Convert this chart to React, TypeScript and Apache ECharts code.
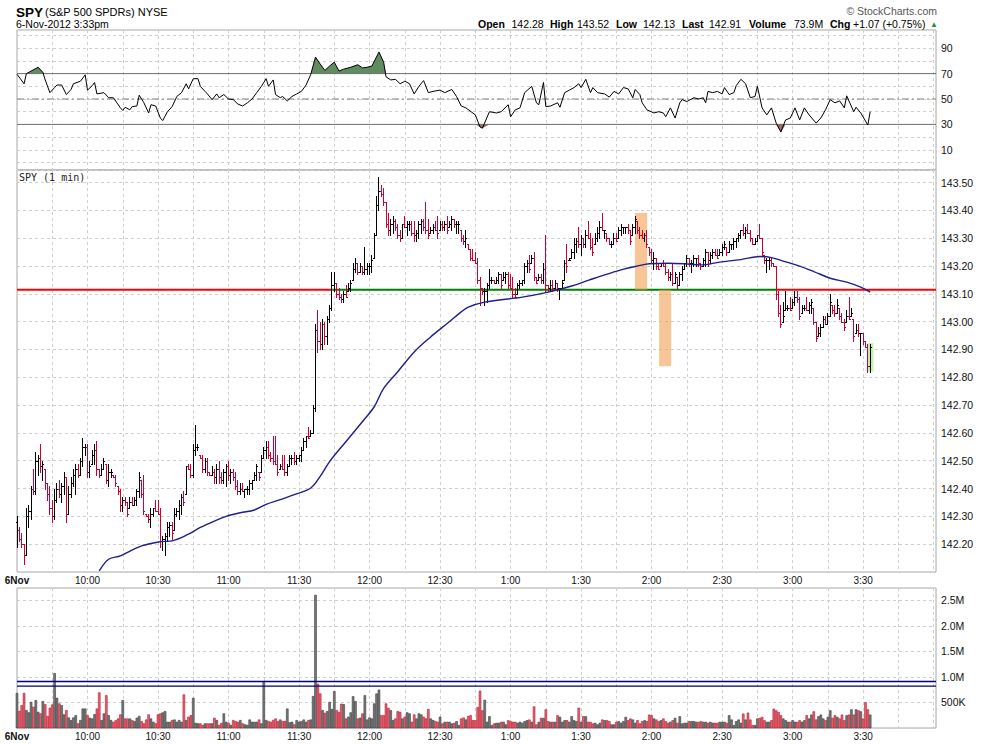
import React, { useEffect, useRef } from "react";
import * as echarts from "echarts";

// ---------------- data ----------------
const PRICE_BASE = 142; // prices below are stored in cents above this base
const PREV_CLOSE = 141.84;
const FIRST_OPEN = 142.28;

const HIGH_C = [
  30,26,24,20,33,34,41,47,53,52, 56,50,47,42,41,36,40,42,43,42, 46,44,41,44,47,49,49,51,58,56,
  56,50,54,56,57,47,49,51,49,49, 47,45,45,41,40,37,37,35,37,37, 37,40,46,43,45,31,31,33,33,36,
  36,33,23,24,28,28,28,33,33,36, 38,39,48,49,49,56,63,56,52,52, 51,51,46,48,47,49,50,46,47,49,
  50,47,47,46,43,42,42,40,41,43, 43,46,49,46,52,55,57,57,53,59, 59,52,49,52,52,49,52,52,53,52,
  52,55,58,59,62,61,70,99,104,100, 101,100,102,106,118,118,114,112,110,111, 113,114,115,121,123,121,121,120,127,121,
  121,124,132,145,152,149,148,143,139,137, 138,137,135,133,135,138,136,136,136,136, 133,136,137,137,143,137,134,135,136,138,
  136,136,136,138,136,138,137,136,136,133, 131,133,128,126,126,125,123,116,112,112, 114,119,116,115,116,118,117,118,118,118,
  117,116,112,114,115,115,121,122,124,124, 125,116,117,117,121,131,113,115,115,115, 114,112,115,122,128,123,126,130,130,134,
  131,130,133,136,132,130,132,134,136,139, 133,132,130,129,132,132,134,135,134,134, 135,133,135,138,136,134,133,132,133,127,
  126,125,123,121,121,122,121,119,118,121, 118,116,118,120,121,124,123,122,124,123, 124,121,123,126,125,125,126,126,126,126,
  128,129,127,129,128,130,130,132,133,135, 134,135,133,130,130,131,135,130,124,123, 123,123,121,120,111,106,107,111,106,109,
  108,111,111,109,106,106,109,107,108,105, 100,98,99,102,102,103,110,106,106,108, 105,103,101,104,109,105,101,99,99,96,
  96,93,92,92
];
const LOW_C = [
  19,21,19,13,16,26,29,38,38,45, 46,43,40,36,31,28,29,35,37,35, 38,28,31,37,41,38,44,45,48,52,
  44,44,49,49,45,44,45,47,42,41, 44,44,41,38,32,32,34,30,33,34, 34,34,37,37,31,30,28,26,30,32,
  31,19,18,16,21,23,22,25,30,29, 31,34,38,47,44,44,52,54,51,46, 46,45,45,45,42,42,42,42,42,41,
  43,42,43,40,38,38,39,37,38,38, 40,43,43,43,46,51,51,51,50,49, 49,45,47,47,45,45,48,49,49,49,
  50,50,54,55,58,59,60,68,89,90, 90,92,92,100,104,111,109,108,107,107, 109,111,111,115,118,117,118,117,117,117,
  117,118,123,131,140,145,142,134,131,131, 132,133,130,129,130,134,131,133,131,129, 129,130,132,133,132,130,132,132,133,130,
  133,133,133,132,134,133,134,132,132,129, 128,127,126,122,122,121,114,106,110,106, 107,112,114,114,114,114,112,115,114,112,
  112,109,109,110,112,113,114,118,118,121, 115,114,115,114,114,111,111,111,111,112, 111,108,112,115,118,122,123,123,125,127,
  124,127,127,130,126,124,128,129,130,133, 130,129,128,127,128,129,130,131,132,132, 132,128,131,132,132,130,130,129,127,124,
  121,119,119,119,120,120,117,115,115,113, 114,112,113,115,119,120,120,118,120,120, 120,119,120,120,120,121,123,124,123,124,
  124,126,124,125,126,126,127,129,130,131, 130,132,129,128,128,129,130,124,121,118, 119,120,120,108,102,98,100,104,104,104,
  105,106,107,101,103,104,104,103,103,99, 93,95,95,98,99,99,102,103,102,103, 101,100,97,100,101,102,93,96,95,88,
  92,91,82,82
];
const CLOSE_C = [
  25,22,20,16,30,32,40,39,50,51, 48,49,42,38,33,30,36,40,38,41, 44,31,38,42,45,47,45,50,55,55,
  46,48,52,54,47,45,47,50,43,46, 46,44,42,39,34,36,35,31,35,34, 36,39,44,38,32,30,29,31,33,32,
  31,21,22,23,26,27,24,31,32,34, 37,35,48,47,45,54,55,55,51,47, 50,46,45,46,44,47,44,43,46,48,
  45,46,44,41,39,40,39,40,40,42, 43,45,48,44,51,54,55,52,51,50, 49,46,48,47,46,48,51,51,50,51,
  52,54,57,59,58,60,69,97,93,92, 99,95,101,105,113,114,110,109,108,110, 109,112,114,119,121,118,120,118,119,120,
  120,122,131,142,147,146,143,135,133,135, 136,134,131,130,135,134,135,135,132,131, 132,135,136,134,133,131,133,134,133,132,
  135,134,135,133,135,137,135,135,135,130, 129,130,126,123,122,121,115,112,111,111, 113,115,115,114,115,117,113,116,117,113,
  112,110,109,113,114,115,120,121,119,123, 116,114,116,115,119,113,112,113,112,114, 112,112,114,121,120,122,125,128,129,128,
  130,128,131,130,127,125,130,132,134,133, 133,130,128,128,130,129,133,134,134,134, 133,129,134,137,133,131,130,131,128,125,
  122,123,120,119,121,120,118,116,117,114, 117,113,117,119,121,123,121,121,123,123, 121,120,122,125,122,124,125,124,123,125,
  127,128,125,128,128,129,130,131,133,132, 133,132,130,128,129,131,130,125,122,122, 122,121,120,110,103,99,102,105,105,104,
  107,109,108,102,105,105,104,106,107,100, 94,96,98,101,99,102,107,104,103,106, 102,100,98,102,101,103,95,97,96,96,
  93,91,84,91
];

// volume in thousands of shares, one value per minute bar
const VOLUME_K = [
  680,330,440,680,345,300,505,410,540,310, 280,520,460,230,390,455,1070,585,475,440,
  260,345,200,150,200,245,85,150,375,375, 245,195,180,265,375,690,150,280,635,245,
  150,115,145,180,260,540,180,180,180,150, 130,195,230,130,85,160,260,180,115,85,
  260,280,300,325,115,115,150,160,115,150, 115,650,150,215,245,585,95,85,85,55,
  85,85,85,85,195,150,55,95,280,115, 95,55,150,130,115,150,85,65,55,160,
  115,115,115,160,85,910,150,130,115,150, 180,130,160,130,130,375,105,115,65,150,
  115,130,160,115,150,160,620,2600,860,670, 345,290,325,505,365,715,345,310,470,460,
  180,215,300,615,520,180,195,280,635,160, 200,180,475,670,745,245,245,475,390,345,
  150,180,325,310,180,215,300,280,115,260, 180,280,260,215,180,365,180,150,130,115,
  215,85,115,115,115,
  83,96,128,51,180,199,160,231,244,147, 147,404,724,340,545,115,224,51,83,96,
  96,115,115,64,147,128,115,115,96,115, 96,
  128,147,160,115,417,64,115,192,192,359, 128,115,115,115,244,212,115,147,147,115,
  224,147,128,391,115,224,224,115,115,83, 96,
  64,96,160,147,147,128,64,64,115,128, 96,128,212,147,180,160,96,147,83,128,
  147,128,256,244,180,160,128,147,180,128, 96,
  115,147,192,96,224,83,96,96,128,128, 128,115,115,128,115,115,96,115,96,96,
  96,115,115,115,96,244,160,51,128,160, 96,
  276,160,295,160,51,51,180,192,212,147, 115,115,147,
  372,340,308,244,180,147,115,115,147,115, 115,147,115,147,244,180,256,320,160,224,
  256,180,147,212,340,192,244,212,180,256, 147,244,256,359,256,359,340,320,180,500,
  359,256
];

// RSI readings: minute after 9:30 and value
const RSI_T = [
  0,3,4,6,9,11,12,14,16,17, 19,21,23,24,27,29,30,32,33,34, 37,39,41,44,45,46,48,49,51,52,
  54,56,57,59,61,62,64,66,68,70, 72,73,75,77,78,80,81,83,85,86, 88,90,92,94,96,98,100,102,104,106,
  107,109,110,112,113,115,117,119,121,123, 125,127,129,131,133,135,137,139,142,145,
  147,149,151,154,156,157,159,161,163,165, 167,169,171,173,175,177,180,182,185,187,
  189,191,195,197,198,201,204,206,209,210, 212,214,216,219,221,222,224,225,227,230,
  231,233,235,237,239,240,242,244,245,247, 250,252,254,256,258,260,262,263,265,266,
  268,271,273,275,276,278,280,282,283,285, 288,290,292,293,294,296,298,300,301,303,
  305,306,308,310,312,314,315,317,319,321, 323,325,327,329,331,333,335,337,340,342,
  344,346,348,350,352,353,356,357,359,362, 363
];
const RSI_V = [
  69.5,62,70,72,75,71,65,55,59,61, 61,53.5,57.5,62,64,69,57,60.5,63,54, 55,51,51,43,41,43.5,41.5,44,44.5,53,
  47,39,45.5,44.5,35,33,40,44,52,55, 62,58,66,66,60,56,54,49.5,54,51, 53.5,50,49.5,46,44.5,47,50,55,60,66,
  60,65,53.5,51,52,48.5,52,54,56,61, 69.5,83,77.5,72.5,76,79,72,73.5,75,77,
  74.5,75,76,87,79,67.5,65,65.5,62,64, 62,54,60,64.5,55,56,57,55,57.5,52,
  44.5,43,37.5,28,27,40,39,40,45.5,36, 41.5,43,55,60,47,45.5,63,44,44.5,47,
  43.5,55,57,59,62,59,65.5,55,59,55, 54,51.5,56,54,59,58,51,57.5,53.5,47,
  41.5,39,40,39,36,43,35,47,49.5,48, 51,50,51,47,56,55,56,54,59,53.5,
  55,60.5,65.5,62,51,52,60,43,37.5,43, 31,24,33.5,35,43,33.5,43,37.5,31,35,
  41.5,49.5,47,48.5,43,52.5,40,43.5,39,29.5, 40
];

// moving average readings
const MA_T = [35,39,44,53,61,66,73,78,84,89, 95,101,106,112,118,125,129,133,140,147,
  152,156,162,169,176,183,189,192,199,215, 226,236,243,250,257,263,269,277,284,291,
  299,308,316,321,325,332,339,346,353,359, 363];
const MA_V = [142.104,142.146,142.158,142.194,142.209,142.212,142.236,142.26,142.283,142.30,
  142.313,142.323,142.343,142.36,142.378,142.402,142.444,142.497,142.569,142.641,
  142.694,142.76,142.82,142.891,142.945,142.993,143.035,143.052,143.07,143.088,
  143.106,143.128,143.148,143.168,143.186,143.198,143.208,143.21,143.208,143.204,
  143.214,143.223,143.234,143.23,143.22,143.202,143.18,143.156,143.142,143.124,
  143.106];

const RSI_OVERBOUGHT = 70;
const RSI_MID = 50;
const RSI_OVERSOLD = 30;
const RSI_LABELS = [10, 30, 50, 70, 90];

const TIME_TICKS = [0, 30, 60, 90, 120, 150, 180, 210, 240, 270, 300, 330, 360];
const TIME_LABELS = ["6Nov", "10:00", "10:30", "11:00", "11:30", "12:00", "12:30", "1:00", "1:30", "2:00", "2:30", "3:00", "3:30"];
const X_MIN = 0;
const X_MAX = 391;

const PRICE_LEVEL = 143.115;
const LEVEL_BREAKS = [0, 134.3, 323.2, 391]; // red, green, red
const VOL_AVG_K = [910, 820];
// [t0, t1, priceLow, priceHigh]
const HIGHLIGHT_BOXES = [
  [262.9, 268.1, 143.115, 143.39],
  [273.2, 278.3, 142.84, 143.115],
];
const LAST_BAR_BOX = [[362.0, 364.4, 142.82, 142.923]];

const HEADER_STATS = [
  ["Open", "142.28"], ["High", "143.52"], ["Low", "142.13"], ["Last", "142.91"],
  ["Volume", "73.9M"], ["Chg", "+1.07 (+0.75%)"],
];

// ---------------- styling ----------------
const FONT = "'Liberation Sans', Arial, Helvetica, sans-serif";
const RED = "#cc0033";
const BLACK = "#000000";
const GRID_LINE = { color: "#cfcfcf", type: [3, 3] as any, width: 1 };
const BORDER = "#a8a8a8";
const HEADER_X = [[478, 511.5], [550, 577], [616, 643], [682, 709], [749, 794], [830, 853]];

function timeFormatter(v: number) {
  const i = TIME_TICKS.findIndex((t) => Math.abs(t - v) < 1e-6);
  if (i < 0) return "";
  return i === 0 ? `{b|${TIME_LABELS[0]}}` : TIME_LABELS[i];
}

function xAxis(gridIndex: number, labels: boolean, split: boolean) {
  return {
    type: "value",
    gridIndex,
    min: X_MIN,
    max: X_MAX,
    interval: 15,
    show: labels || split,
    axisLine: { show: false },
    axisTick: { show: false },
    splitLine: { show: split, lineStyle: GRID_LINE },
    axisLabel: labels
      ? {
          show: true,
          margin: 3,
          fontSize: 10,
          color: "#111",
          fontFamily: FONT,
          showMinLabel: true,
          showMaxLabel: true,
          formatter: timeFormatter,
          rich: { b: { fontWeight: "bold", fontSize: 10, fontFamily: FONT, color: "#111" } },
        }
      : { show: false },
  };
}

function yLabel(formatter: (v: number) => string) {
  return { show: true, margin: 5, fontSize: 10.5, color: "#111", fontFamily: FONT, formatter, showMinLabel: true, showMaxLabel: true };
}

function buildOption() {
  const bars = CLOSE_C.map((c, i) => {
    const close = PRICE_BASE + c / 100;
    const prev = i === 0 ? PREV_CLOSE : PRICE_BASE + CLOSE_C[i - 1] / 100;
    const open = i === 0 ? FIRST_OPEN : prev;
    return [i, open, PRICE_BASE + HIGH_C[i] / 100, PRICE_BASE + LOW_C[i] / 100, close, close < prev - 1e-9 ? 1 : 0];
  });
  const vols = VOLUME_K.map((v, i) => [i, v, bars[i] ? bars[i][5] : 0]);
  const rsi = RSI_T.map((t, i) => [t, RSI_V[i]]);
  const rsiHi = RSI_T.map((t, i) => [t, Math.max(RSI_V[i], RSI_OVERBOUGHT)]);
  const rsiLo = RSI_T.map((t, i) => [t, Math.min(RSI_V[i], RSI_OVERSOLD)]);
  const ma = MA_T.map((t, i) => [t, MA_V[i]]);

  const hLine = (xi: number, yi: number, y: number, color: string, width: number, type: any, z: number) => ({
    type: "line",
    xAxisIndex: xi,
    yAxisIndex: yi,
    data: [[X_MIN, y], [X_MAX, y]],
    symbol: "none",
    silent: true,
    z,
    lineStyle: { color, width, type },
  });

  const levelSeries = LEVEL_BREAKS.slice(0, -1).map((t0, i) => ({
    type: "line",
    xAxisIndex: 2,
    yAxisIndex: 2,
    data: [[t0, PRICE_LEVEL], [LEVEL_BREAKS[i + 1], PRICE_LEVEL]],
    symbol: "none",
    silent: true,
    z: 2,
    lineStyle: { color: i === 1 ? "#008000" : "#ff0000", width: 2 },
  }));

  const boxRender = (fill: string) => (params: any, api: any) => {
    const p0 = api.coord([api.value(0), api.value(3)]);
    const p1 = api.coord([api.value(1), api.value(2)]);
    return {
      type: "rect",
      shape: { x: p0[0], y: p0[1], width: p1[0] - p0[0], height: p1[1] - p0[1] },
      style: { fill },
    };
  };

  return {
    animation: false,
    backgroundColor: "#ffffff",
    textStyle: { fontFamily: FONT },
    grid: [
      { left: 17, top: 30, width: 919, height: 140, show: true, borderColor: BORDER, borderWidth: 1, outerBoundsMode: "none" },
      { left: 17, top: 35.5, width: 919, height: 127, outerBoundsMode: "none" },
      { left: 17, top: 170, width: 919, height: 402, show: true, borderColor: BORDER, borderWidth: 1, outerBoundsMode: "none" },
      { left: 17, top: 588, width: 919, height: 140, show: true, borderColor: BORDER, borderWidth: 1, outerBoundsMode: "none" },
    ],
    xAxis: [xAxis(0, false, true), xAxis(1, false, false), xAxis(2, true, true), xAxis(3, true, true)],
    yAxis: [
      { type: "value", gridIndex: 0, min: 0, max: 1, show: false },
      {
        type: "value", gridIndex: 1, min: 0, max: 100, interval: 10, position: "right",
        axisLine: { show: false }, axisTick: { show: false },
        splitLine: { show: true, lineStyle: GRID_LINE },
        axisLabel: yLabel((v) => (RSI_LABELS.indexOf(Math.round(v)) >= 0 && Math.abs(v - Math.round(v)) < 1e-6 ? String(Math.round(v)) : "")),
      },
      {
        type: "value", gridIndex: 2, min: 142.1, max: 143.545, interval: 0.1, position: "right",
        axisLine: { show: false }, axisTick: { show: false },
        splitLine: { show: true, lineStyle: GRID_LINE },
        axisLabel: yLabel((v) => {
          const k = v * 10;
          if (Math.abs(k - Math.round(k)) > 1e-4) return "";
          if (v < 142.15 || v > 143.51) return "";
          return v.toFixed(2);
        }),
      },
      {
        type: "value", gridIndex: 3, min: 0, max: 2740, interval: 500, position: "right",
        axisLine: { show: false }, axisTick: { show: false },
        splitLine: { show: true, lineStyle: GRID_LINE },
        axisLabel: yLabel((v) => {
          if (v <= 0 || v > 2600 || Math.abs(v / 500 - Math.round(v / 500)) > 1e-6) return "";
          return v < 1000 ? `${Math.round(v)}K` : `${(v / 1000).toFixed(1)}M`;
        }),
      },
    ],
    series: [
      // RSI panel
      {
        type: "line", xAxisIndex: 1, yAxisIndex: 1, data: rsiHi, symbol: "none", silent: true, z: 2,
        lineStyle: { width: 0, opacity: 0 },
        areaStyle: { origin: RSI_OVERBOUGHT, color: "#5f8d5f", opacity: 1 },
      },
      {
        type: "line", xAxisIndex: 1, yAxisIndex: 1, data: rsiLo, symbol: "none", silent: true, z: 2,
        lineStyle: { width: 0, opacity: 0 },
        areaStyle: { origin: RSI_OVERSOLD, color: "#a06a66", opacity: 1 },
      },
      hLine(1, 1, RSI_OVERBOUGHT, "#6f6f6f", 1, "solid", 3),
      hLine(1, 1, RSI_OVERSOLD, "#6f6f6f", 1, "solid", 3),
      hLine(1, 1, RSI_MID, "#808080", 1, [7, 3, 2, 3], 3),
      {
        type: "line", xAxisIndex: 1, yAxisIndex: 1, data: rsi, symbol: "none", silent: true, z: 5,
        lineStyle: { color: "#000", width: 1 },
      },
      // price panel
      ...levelSeries,
      {
        type: "custom", xAxisIndex: 2, yAxisIndex: 2, data: HIGHLIGHT_BOXES, silent: true, z: 3,
        encode: { x: [0, 1], y: [2, 3] },
        renderItem: boxRender("rgba(244,160,80,0.6)"),
      },
      {
        type: "custom", xAxisIndex: 2, yAxisIndex: 2, data: LAST_BAR_BOX, silent: true, z: 3,
        encode: { x: [0, 1], y: [2, 3] },
        renderItem: boxRender("rgba(190,240,160,0.9)"),
      },
      {
        type: "custom", xAxisIndex: 2, yAxisIndex: 2, data: bars, silent: true, z: 4,
        encode: { x: 0, y: [1, 2, 3, 4] },
        renderItem: (params: any, api: any) => {
          const t = api.value(0);
          const h = api.value(2);
          const l = api.value(3);
          const o = Math.min(h, Math.max(l, api.value(1)));
          const c = api.value(4);
          const color = api.value(5) === 1 ? RED : BLACK;
          const ph = api.coord([t, h]);
          const pl = api.coord([t, l]);
          const po = api.coord([t, o]);
          const pc = api.coord([t, c]);
          const x = Math.floor(ph[0]) + 0.5;
          const yo = Math.round(po[1]) + 0.5;
          const yc = Math.round(pc[1]) + 0.5;
          const st = { stroke: color, lineWidth: 1 };
          return {
            type: "group",
            children: [
              { type: "line", shape: { x1: x, y1: Math.round(ph[1]), x2: x, y2: Math.max(Math.round(pl[1]), Math.round(ph[1]) + 1) + 1 }, style: st },
              { type: "line", shape: { x1: x - 1.5, y1: yo, x2: x, y2: yo }, style: st },
              { type: "line", shape: { x1: x, y1: yc, x2: x + 1.5, y2: yc }, style: st },
            ],
          };
        },
      },
      {
        type: "line", xAxisIndex: 2, yAxisIndex: 2, data: ma, symbol: "none", silent: true, z: 5, smooth: 0.35,
        lineStyle: { color: "#1e1e8c", width: 1.4 },
      },
      // volume panel
      {
        type: "custom", xAxisIndex: 3, yAxisIndex: 3, data: vols, silent: true, z: 3,
        encode: { x: 0, y: 1 },
        renderItem: (params: any, api: any) => {
          const t = api.value(0);
          const red = api.value(2) === 1;
          const p0 = api.coord([t - 0.4, api.value(1)]);
          const p1 = api.coord([t + 0.4, 0]);
          return {
            type: "rect",
            shape: { x: p0[0], y: p0[1], width: p1[0] - p0[0], height: p1[1] - p0[1] },
            style: { fill: red ? "#d66b72" : "#7a7a7a", stroke: red ? "#c8102e" : "#3a3a3a", lineWidth: 0.6 },
          };
        },
      },
      ...VOL_AVG_K.map((v) => hLine(3, 3, v, "#000080", 1.3, "solid", 4)),
    ],
    graphic: [
      { type: "text", x: 16, y: 12, style: { text: "SPY", font: `bold 13.5px ${FONT}`, fill: "#000", align: "left", verticalAlign: "middle" } },
      { type: "text", x: 45, y: 12, style: { text: "(S&P 500 SPDRs) NYSE", font: `11px ${FONT}`, fill: "#000", align: "left", verticalAlign: "middle" } },
      { type: "text", x: 16, y: 24, style: { text: "6-Nov-2012 3:33pm", font: `10.5px ${FONT}`, fill: "#000", align: "left", verticalAlign: "middle" } },
      { type: "text", x: 937, y: 11, style: { text: "© StockCharts.com", font: `10.5px ${FONT}`, fill: "#555", align: "right", verticalAlign: "middle" } },
      ...HEADER_STATS.flatMap(([label, value], i) => [
        { type: "text", x: HEADER_X[i][0], y: 24, style: { text: label, font: `bold 10.5px ${FONT}`, fill: "#000", align: "left", verticalAlign: "middle" } },
        { type: "text", x: HEADER_X[i][1], y: 24, style: { text: value, font: `10.5px ${FONT}`, fill: "#000", align: "left", verticalAlign: "middle" } },
      ]),
      { type: "text", x: 930, y: 24, style: { text: "▲", font: `8px ${FONT}`, fill: "#2e8b2e", align: "left", verticalAlign: "middle" } },
      { type: "text", x: 19, y: 177.5, z: 10, style: { text: "SPY (1 min)", font: `10px 'DejaVu Sans Mono', monospace`, fill: "#222", align: "left", verticalAlign: "middle" } },
    ],
  };
}

export default function App() {
  const ref = useRef<HTMLDivElement>(null);
  useEffect(() => {
    if (!ref.current) return;
    const chart = echarts.init(ref.current, null, { renderer: "svg" });
    chart.setOption(buildOption() as any);
    return () => chart.dispose();
  }, []);
  return (
    <div
      ref={ref}
      style={{ position: "fixed", left: 0, top: 0, width: 990, height: 744, background: "#ffffff" }}
    />
  );
}
